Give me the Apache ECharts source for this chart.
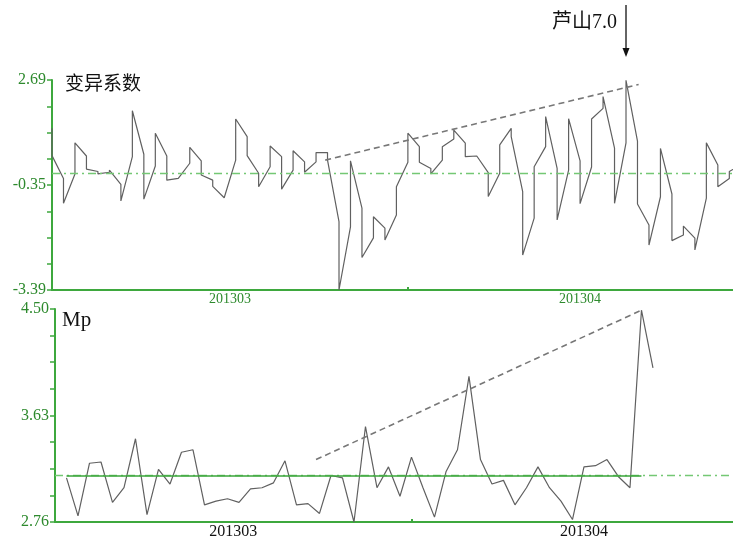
<!DOCTYPE html>
<html>
<head>
<meta charset="utf-8">
<script src="https://cdn.jsdelivr.net/npm/echarts@6/dist/echarts.min.js"></script>
<style>
  html, body { margin: 0; padding: 0; background: #fff; }
  #chart { width: 733px; height: 540px; }
</style>
</head>
<body>
<div id="chart"></div>
<script>
// Day index 0 = 2013-03-01. Coefficient of variation: two readings per day
// (first reading, second reading), joined as one continuous trace.
const cvFirst = [
  1.29, -0.16, -0.03, 0.49, 0.04, 0.02, -0.33, 0.47, 0.54, 0.20,
  0.49, -0.16, 0.28, 0.35, -0.21, -0.72, 0.37, 1.05, -0.01, 0.18,
  0.47, 0.08, 0.32, 0.32, 0.59, -1.41, -1.56, -1.02, -1.88, -1.60,
  -1.22, 0.31, 0.76, 0.13, 0.37, 0.98, 0.86, 0.49, 0.01, -0.01,
  1.29, -0.54, -1.31, 0.76, 0.13, 0.08, 0.35, 0.17, 1.87, 0.72,
  0.87, 0.92, -1.51, -0.69, -0.61, -1.80, -1.89, -0.73, 0.23, -0.16,
  0.23
];
const cvSecond = [
  0.50, -0.88, 0.87, 0.11, -0.03, 0.08, -0.81, 1.80, -0.76, 1.15,
  -0.21, -0.16, 0.74, -0.06, -0.39, -0.72, 1.56, 0.50, -0.40, 0.78,
  -0.47, 0.64, 0.02, 0.59, 0.37, -3.39, 0.35, -2.45, -1.27, -1.94,
  -0.40, 1.15, 0.31, -0.03, 0.76, 1.24, 0.47, 0.49, -0.68, 0.81,
  1.05, -2.38, 0.18, 1.63, -1.36, 1.57, -0.89, 1.56, 2.21, -0.88,
  2.68, -0.90, -2.09, 0.71, -1.96, -1.54, -2.23, 0.87, -0.40, 0.04,
  0.23
];
const cvMean = 0;
const cvTrendDays = [23.8, 51.1];
const cvTrendValues = [0.37, 2.56];

// Mp, one value per day, starting 2013-03-02 (day index 1).
const mpFirstDay = 1;
const mpValues = [
  3.12, 2.81, 3.24, 3.25, 2.92, 3.04, 3.44, 2.82, 3.19, 3.07,
  3.33, 3.35, 2.90, 2.93, 2.95, 2.92, 3.03, 3.04, 3.08, 3.26,
  2.90, 2.91, 2.83, 3.14, 3.12, 2.76, 3.54, 3.04, 3.21, 2.97,
  3.29, 3.04, 2.80, 3.17, 3.35, 3.95, 3.27, 3.07, 3.10, 2.90,
  3.04, 3.21, 3.04, 2.93, 2.78, 3.21, 3.22, 3.27, 3.13, 3.04,
  4.49, 4.02
];
const mpMean = 3.14;
const mpMeanSpan = [1, 51];
const mpTrendDays = [22.7, 51];
const mpTrendValues = [3.27, 4.49];

// Tick labels
const cvTickLabels = [-3.39, -0.35, 2.69];
const mpTickLabels = [2.76, 3.63, 4.50];
const monthLabels = { 15.5: '201303', 46: '201304' };
const monthBoundary = 31;
const quakeDay = 50;
const quakeText = '芦山7.0';

const GREEN_AXIS = '#3ea83e';
const GREEN_TEXT = '#2e8a2e';
const GREEN_MEAN = '#74c874';
const DASH_DOT = [8, 4, 2, 4];
const SERIF = '"Liberation Serif", "Times New Roman", serif';

function evenTicks(lo, hi, n) {
  const out = [];
  for (let i = 0; i <= n; i++) out.push(+(lo + (hi - lo) * i / n).toFixed(4));
  return out;
}

const cvData = [];
cvFirst.forEach((v, d) => {
  cvData.push([d, v]);
  cvData.push([d, cvSecond[d]]);
});
const mpData = mpValues.map((v, i) => [i + mpFirstDay, v]);

function monthAxis(gridIndex, max, labelColor, fontSize) {
  return {
    type: 'value', gridIndex, min: 0, max,
    axisLine: { show: true, onZero: false, lineStyle: { color: GREEN_AXIS, width: 2 } },
    axisTick: { show: true, customValues: [monthBoundary], length: 3, inside: true,
      lineStyle: { color: GREEN_AXIS, width: 2 } },
    axisLabel: {
      customValues: Object.keys(monthLabels).map(Number),
      formatter: v => monthLabels[v] || '',
      color: labelColor, fontFamily: SERIF, fontSize, margin: 2
    },
    splitLine: { show: false }
  };
}

function valueAxis(gridIndex, lo, hi, labels) {
  return {
    type: 'value', gridIndex, min: lo, max: hi,
    axisLine: { show: true, onZero: false, lineStyle: { color: GREEN_AXIS, width: 2 } },
    axisTick: { show: true, customValues: evenTicks(lo, hi, 8), length: 5,
      lineStyle: { color: GREEN_AXIS, width: 1.5 } },
    axisLabel: {
      customValues: labels,
      formatter: v => v.toFixed(2),
      color: GREEN_TEXT, fontFamily: SERIF, fontSize: 16, margin: 6
    },
    splitLine: { show: false }
  };
}

const chart = echarts.init(document.getElementById('chart'));
chart.setOption({
  animation: false,
  backgroundColor: '#fff',
  grid: [
    { left: 52, top: 80, width: 681, height: 210 },
    { left: 55, top: 309, width: 678, height: 213 }
  ],
  xAxis: [
    monthAxis(0, 59.32, GREEN_TEXT, 14),
    monthAxis(1, 58.96, '#111', 16)
  ],
  yAxis: [
    valueAxis(0, -3.39, 2.69, cvTickLabels),
    valueAxis(1, 2.76, 4.50, mpTickLabels)
  ],
  series: [
    {
      type: 'line', xAxisIndex: 0, yAxisIndex: 0, data: cvData,
      symbol: 'none', lineStyle: { color: '#606060', width: 1.2 },
      markLine: {
        silent: true, symbol: 'none', label: { show: false },
        lineStyle: { color: GREEN_MEAN, type: DASH_DOT, width: 1.4 },
        data: [{ yAxis: cvMean }]
      },
      z: 3
    },
    {
      type: 'line', xAxisIndex: 0, yAxisIndex: 0,
      data: cvTrendDays.map((d, i) => [d, cvTrendValues[i]]),
      symbol: 'none', lineStyle: { color: '#777', width: 1.6, type: [6, 4] }
    },
    {
      type: 'line', xAxisIndex: 1, yAxisIndex: 1, data: mpData,
      symbol: 'none', lineStyle: { color: '#606060', width: 1.2 },
      markLine: {
        silent: true, symbol: 'none', label: { show: false },
        data: [
          { yAxis: mpMean, lineStyle: { color: GREEN_MEAN, type: DASH_DOT, width: 1.4 } },
          [
            { coord: [mpMeanSpan[0], mpMean], lineStyle: { color: '#3aa53a', type: 'solid', width: 1.6 } },
            { coord: [mpMeanSpan[1], mpMean] }
          ]
        ]
      },
      z: 3
    },
    {
      type: 'line', xAxisIndex: 1, yAxisIndex: 1,
      data: mpTrendDays.map((d, i) => [d, mpTrendValues[i]]),
      symbol: 'none', lineStyle: { color: '#777', width: 1.6, type: [6, 4] }
    }
  ]
});

// Panel titles and the earthquake marker above the upper panel
const qx = chart.convertToPixel({ xAxisIndex: 0 }, quakeDay);
chart.setOption({
  graphic: [
    { type: 'text', left: 65, top: 73,
      style: { text: '变异系数', font: '19px "Noto Sans CJK SC", sans-serif', fill: '#111' } },
    { type: 'text', left: 62, top: 310,
      style: { text: 'Mp', font: '21px ' + SERIF, fill: '#111' } },
    { type: 'text', x: qx - 9, y: 23,
      style: { text: quakeText, font: '20px "Liberation Serif", "Noto Sans CJK SC", serif',
        fill: '#111', align: 'right', verticalAlign: 'middle' } },
    { type: 'line', shape: { x1: qx, y1: 5, x2: qx, y2: 50 },
      style: { stroke: '#111', lineWidth: 1.3 } },
    { type: 'polygon', shape: { points: [[qx - 3.5, 48], [qx + 3.5, 48], [qx, 57]] },
      style: { fill: '#111' } }
  ]
});
</script>
</body>
</html>
